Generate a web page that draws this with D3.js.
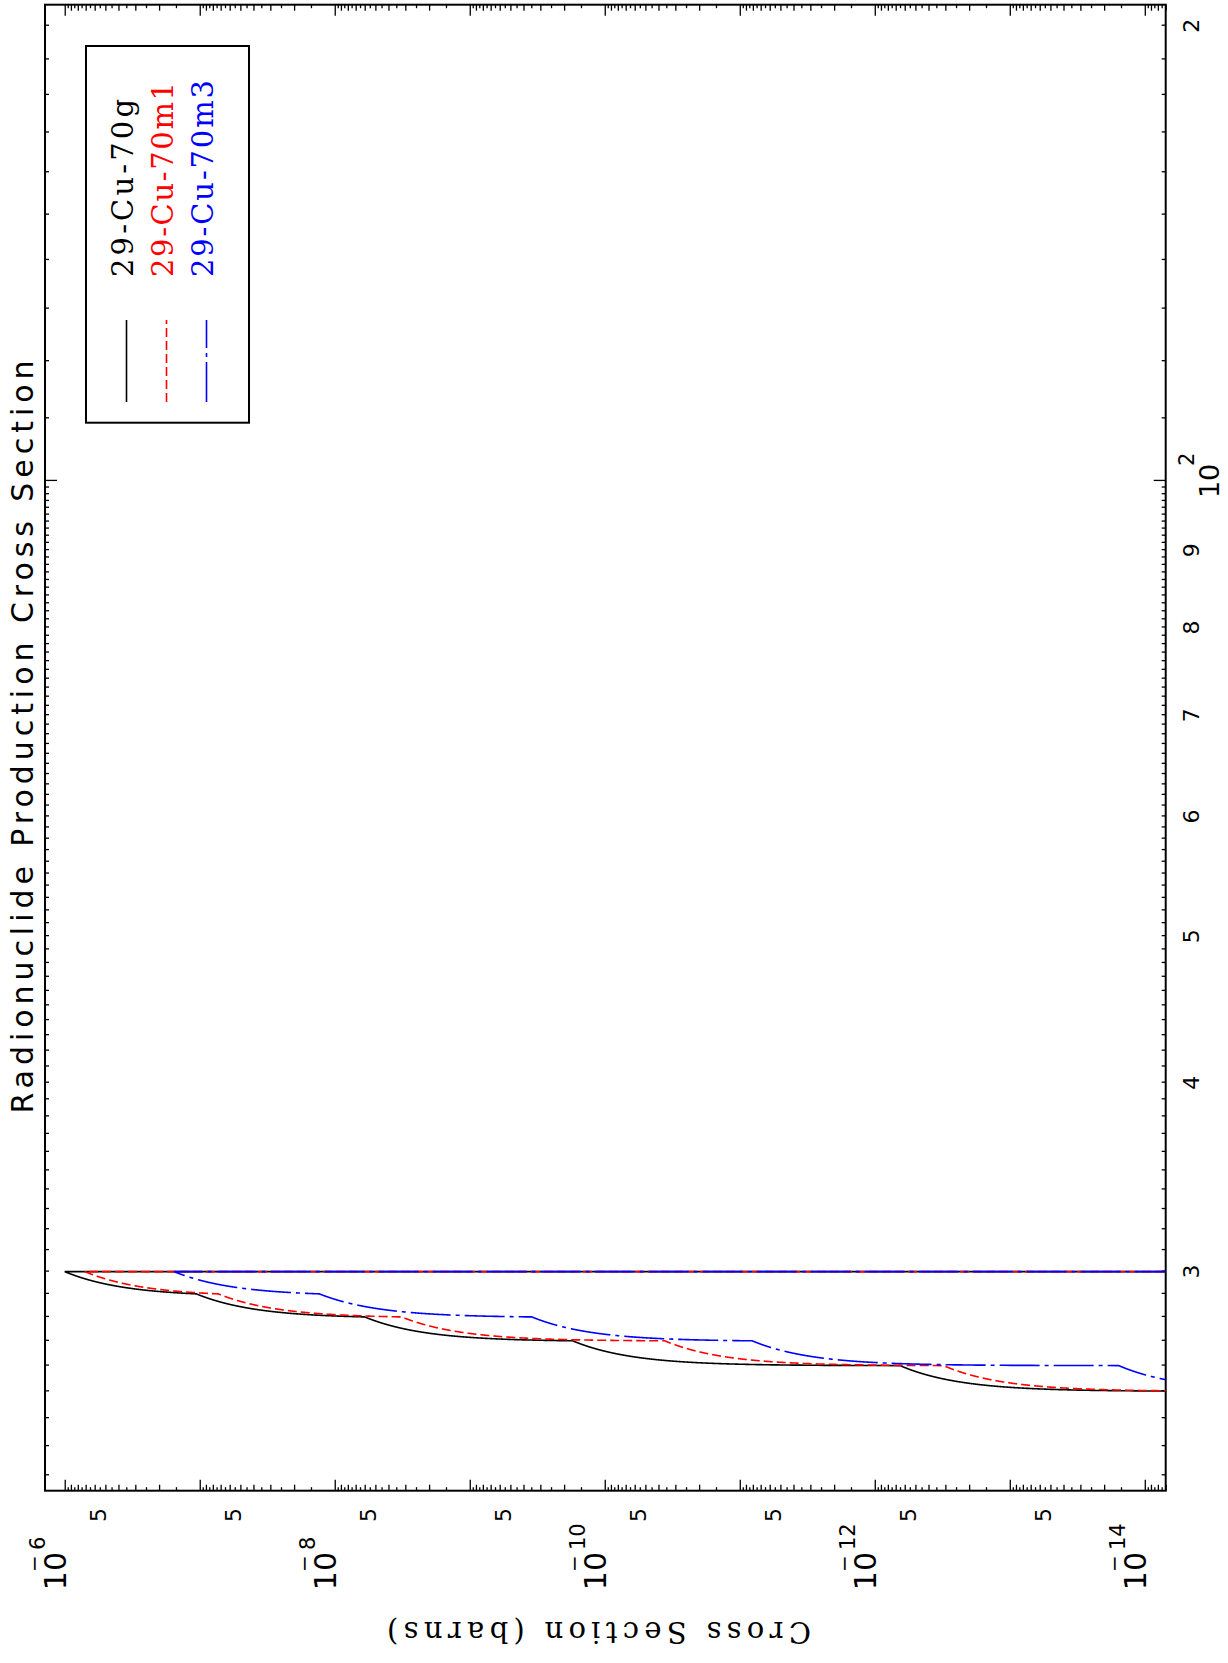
<!DOCTYPE html>
<html><head><meta charset="utf-8">
<script src="https://cdn.jsdelivr.net/npm/d3@7"></script>
<style>body{margin:0;background:#fff;} svg{display:block;background:#fff}</style>
</head><body>
<svg id="c" width="1228" height="1663"></svg>
<script>
// ---------------- data ----------------
const energies = [25, 26, 27, 28, 29, 30, 30];               // MeV
const cu70g  = [0, 6.5e-13, 1.73e-10, 6.0e-9, 1.06e-7, 1.0e-6, 0];
const cu70m1 = [0, 3.1e-13, 3.6e-11, 3.2e-9, 7.3e-8, 7.1e-7, 0];
const cu70m3 = [0, 1.56e-14, 8.1e-12, 3.47e-10, 1.3e-8, 1.55e-7, 0];
const seriesNames = ["29-Cu-70g", "29-Cu-70m1", "29-Cu-70m3"];
const seriesColors = ["#000000", "#ff0000", "#0000ff"];
const energyLabelValues = [30, 40, 50, 60, 70, 80, 90, 200];
const energyLabelTexts = ["3", "4", "5", "6", "7", "8", "9", "2"];
const energyDecadeValues = [100];
const energyDecadeExp = ["2"];
const xsecDecadeExps = [-6, -7, -8, -9, -10, -11, -12, -13, -14];
const xsecLabelExps = [-6, -8, -10, -12, -14];
const xsecFiveExps = [-7, -8, -9, -10, -11, -12, -13, -14];
const titleText = "Radionuclide Production Cross Section";
const yTitleText = "Cross Section (barns)";

// ---------------- layout (original landscape, rotated -90) ----------------
const ROT = 1663;
const oxL = 172.3, oxR = 1658.3, oyT = 45, oyB = 1165.7;
const xE = d3.scaleLog().domain([21.49, 206.5]).range([oxL, oxR]);
const yS = d3.scaleLog().domain([1.4e-6, 7e-15]).range([oyT, oyB]);

const svg = d3.select("#c");
const g = svg.append("g").attr("transform", `translate(0,${ROT}) rotate(-90)`);

g.append("defs").append("clipPath").attr("id", "plotclip")
  .append("rect").attr("x", oxL).attr("y", oyT).attr("width", oxR - oxL).attr("height", oyB - oyT);

// ---------------- ticks ----------------
const eMinor = [];
for (let e = 22; e < 100; e++) eMinor.push(e);
for (let e = 110; e <= 200; e += 10) eMinor.push(e);

function styleAxis(sel) {
  sel.select(".domain").remove();
  sel.selectAll("line").attr("stroke", "#000").attr("stroke-width", 1.3);
  sel.selectAll("text").remove();
}
g.append("g").attr("transform", `translate(0,${oyB})`)
  .call(d3.axisBottom(xE).tickValues(eMinor).tickSize(-4).tickFormat("")).call(styleAxis);
g.append("g").attr("transform", `translate(0,${oyB})`)
  .call(d3.axisBottom(xE).tickValues(energyDecadeValues).tickSize(-12).tickFormat("")).call(styleAxis);
g.append("g").attr("transform", `translate(0,${oyT})`)
  .call(d3.axisTop(xE).tickValues(eMinor).tickSize(-4).tickFormat("")).call(styleAxis);
g.append("g").attr("transform", `translate(0,${oyT})`)
  .call(d3.axisTop(xE).tickValues(energyDecadeValues).tickSize(-12).tickFormat("")).call(styleAxis);

const sMajor = xsecDecadeExps.map(e => Math.pow(10, e));
const sInt = [], sHalf = [];
for (let e = -15; e <= -7; e++) {
  for (let m = 2; m <= 9; m++) sInt.push(m * Math.pow(10, e));
  for (let m = 1.5; m < 10; m += 1) sHalf.push(m * Math.pow(10, e));
}
const inS = v => v >= 7e-15 && v <= 1.4e-6;
[[sMajor, 11], [sInt.filter(inS), 6], [sHalf.filter(inS), 3.5]].forEach(([vals, len]) => {
  g.append("g").attr("transform", `translate(${oxL},0)`)
    .call(d3.axisLeft(yS).tickValues(vals).tickSize(-len).tickFormat("")).call(styleAxis);
  g.append("g").attr("transform", `translate(${oxR},0)`)
    .call(d3.axisRight(yS).tickValues(vals).tickSize(-len).tickFormat("")).call(styleAxis);
});

// frame
g.append("rect").attr("x", oxL).attr("y", oyT).attr("width", oxR - oxL).attr("height", oyB - oyT)
  .attr("fill", "none").attr("stroke", "#000").attr("stroke-width", 2);

// ---------------- tick labels ----------------
const lab = g.append("g").attr("font-family", "DejaVu Sans, sans-serif").attr("fill", "#000");
xsecFiveExps.forEach(e => {
  const v = 5 * Math.pow(10, e);
  lab.append("text").attr("x", 155).attr("y", yS(v) + 1).attr("text-anchor", "end")
    .attr("font-size", 22).text("5");
});
xsecLabelExps.forEach(e => {
  const y = yS(Math.pow(10, e));
  lab.append("text").attr("x", 111).attr("y", y + 1).attr("text-anchor", "end")
    .attr("font-size", 30).text("10");
  lab.append("text").attr("x", 91).attr("y", y - 24).attr("font-size", 20).text("\u2212");
  lab.append("text").attr("x", 113).attr("y", y - 20).attr("font-size", 21).text(String(-e));
});
energyLabelValues.forEach((v, i) => {
  lab.append("text").attr("x", xE(v)).attr("y", 1199).attr("text-anchor", "middle")
    .attr("font-size", 22).text(energyLabelTexts[i]);
});
energyDecadeValues.forEach((v, i) => {
  lab.append("text").attr("x", xE(v)).attr("y", 1219).attr("text-anchor", "middle")
    .attr("font-size", 27).text("10");
  lab.append("text").attr("x", xE(v) + 15).attr("y", 1194).attr("font-size", 21).text(energyDecadeExp[i]);
});

// titles
g.append("text").attr("x", 926).attr("y", 33).attr("text-anchor", "middle")
  .attr("font-family", "DejaVu Sans, sans-serif").attr("font-size", 30)
  .attr("textLength", 753).attr("lengthAdjust", "spacing").text(titleText);
g.append("text").attr("transform", "translate(41,599) rotate(-90)").attr("text-anchor", "middle")
  .attr("font-family", "DejaVu Serif, serif").attr("font-size", 29)
  .attr("textLength", 424).attr("lengthAdjust", "spacing").text(yTitleText);

// ---------------- curves (lin-lin interpolation drawn on log axes) ----------------
const seriesValues = [cu70g, cu70m1, cu70m3];
const dashes = [null, "9,4", "40,5,4,5"];
const line = d3.line().x(d => xE(d[0])).y(d => yS(Math.max(d[1], 1e-30)));
const curves = g.append("g").attr("clip-path", "url(#plotclip)");
seriesValues.forEach((vals, si) => {
  const pts = [];
  for (let i = 0; i < energies.length - 1; i++) {
    const e1 = energies[i], e2 = energies[i + 1], s1 = vals[i], s2 = vals[i + 1];
    const N = 600;
    for (let k = (i === 0 ? 0 : 1); k <= N; k++) {
      const t = k / N;
      pts.push([e1 + (e2 - e1) * t, s1 + (s2 - s1) * t]);
    }
  }
  curves.append("path").attr("d", line(pts)).attr("fill", "none")
    .attr("stroke", seriesColors[si]).attr("stroke-width", 1.6)
    .attr("stroke-dasharray", dashes[si]);
});

// ---------------- legend ----------------
const leg = g.append("g");
leg.append("rect").attr("x", 1240.3).attr("y", 86).attr("width", 376.7).attr("height", 163)
  .attr("fill", "#fff").attr("stroke", "#000").attr("stroke-width", 2);
const legLens = [178, 195, 197];
seriesNames.forEach((n, i) => {
  const by = 133 + i * 40;
  leg.append("line").attr("x1", 1261).attr("x2", 1343).attr("y1", by - 6.5).attr("y2", by - 6.5)
    .attr("stroke", seriesColors[i]).attr("stroke-width", 1.6).attr("stroke-dasharray", dashes[i]);
  leg.append("text").attr("x", 1386).attr("y", by).attr("fill", seriesColors[i])
    .attr("font-family", "DejaVu Serif, serif").attr("font-size", 29)
    .attr("textLength", legLens[i]).attr("lengthAdjust", "spacing").text(n);
});
</script>
</body></html>
